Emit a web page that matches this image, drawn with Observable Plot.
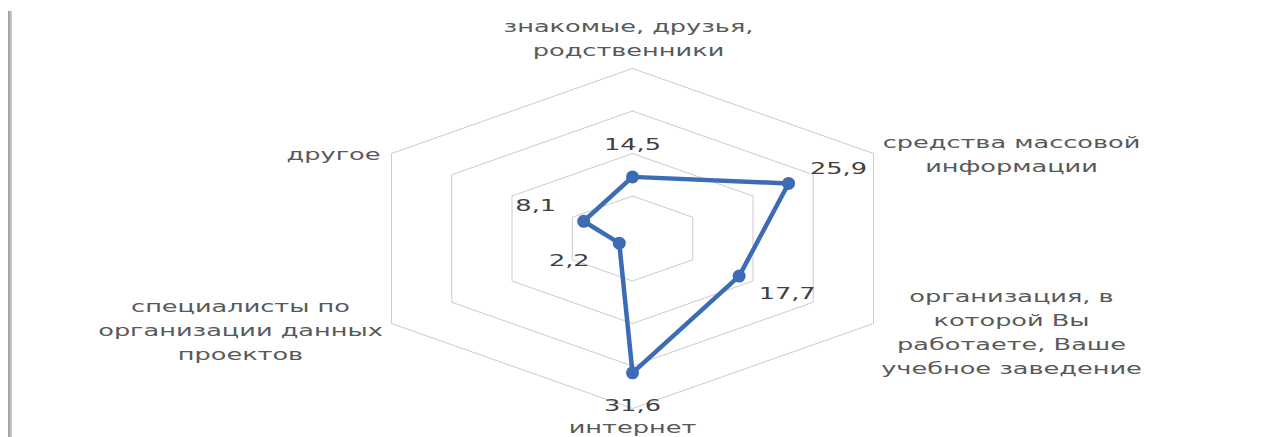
<!DOCTYPE html>
<html><head><meta charset="utf-8">
<script src="https://cdn.jsdelivr.net/npm/d3@7"></script>
<script src="https://cdn.jsdelivr.net/npm/@observablehq/plot@0.6"></script>
<style>
html,body{margin:0;padding:0;background:#fff;}
#chart{position:relative;width:1277px;height:437px;overflow:hidden;}
#frame{position:absolute;left:8px;top:11px;width:4px;height:426px;background:linear-gradient(to right,#9a9a9a,#cfcfcf);}
#chart svg{position:absolute;left:0;top:0;}
</style></head><body>
<div id="chart"><div id="frame"></div></div>
<script>
// ---- data ----
const categories = [
  "знакомые, друзья,\nродственники",
  "средства массовой\nинформации",
  "организация, в\nкоторой Вы\nработаете, Ваше\nучебное заведение",
  "интернет",
  "специалисты по\nорганизации данных\nпроектов",
  "другое"
];
const values = [14.5, 25.9, 17.7, 31.6, 2.2, 8.1];
const valueLabels = ["14,5", "25,9", "17,7", "31,6", "2,2", "8,1"];
const gridLevels = [10, 20, 30, 40];

// ---- layout / style ----
const W = 1277, H = 437;
const CX = 632, CY = 238;      // centre in px
const RY = 170, RX = 241;      // outer ring: vertical radius, half width
const maxV = 40;
const stretch = 1.6;
const blue = "#3b6cb4";
const kx = RX / (maxV * Math.cos(Math.PI / 6));
const ky = RY / maxV;

const n = categories.length;
const ang = i => i * 2 * Math.PI / n;
const pt = (v, i) => ({x: v * Math.sin(ang(i)), y: v * Math.cos(ang(i))});

const rings = gridLevels.flatMap(l => d3.range(n + 1).map(i => ({...pt(l, i % n), level: l})));
const series = d3.range(n + 1).map(i => ({...pt(values[i % n], i % n), v: values[i % n]}));
const pts = values.map((v, i) => ({...pt(v, i), label: valueLabels[i]}));
const outer = categories.map((c, i) => ({...pt(maxV, i), label: c}));

const catStyle = [
  {textAnchor: "middle", dx: -4, dy: -32},
  {textAnchor: "middle", dx: 138, dy: -1},
  {textAnchor: "middle", dx: 138, dy: 7},
  {textAnchor: "middle", dx: 0, dy: 17},
  {textAnchor: "middle", dx: -151, dy: 5},
  {textAnchor: "end", dx: -11, dy: -1}
];
const valStyle = [
  {dx: 0, dy: -32}, {dx: 50, dy: -15}, {dx: 48, dy: 18},
  {dx: 0, dy: 33}, {dx: -50, dy: 18}, {dx: -48, dy: -15}
];

const plot = Plot.plot({
  width: W, height: H,
  margin: 0,
  style: {fontFamily: "'DejaVu Sans', sans-serif", background: "transparent"},
  x: {domain: [-CX / kx, (W - CX) / kx], range: [0, W], axis: null},
  y: {domain: [-(H - CY) / ky, CY / ky], range: [H, 0], axis: null},
  marks: [
    Plot.line(rings, {x: "x", y: "y", z: "level", stroke: "#cccccc", strokeWidth: 1}),
    Plot.line(series, {x: "x", y: "y", stroke: blue, strokeWidth: 4.5, strokeLinejoin: "round"}),
    Plot.dot(pts, {x: "x", y: "y", r: 6.5, fill: blue, stroke: "none"}),
    ...pts.map((p, i) => Plot.text([p], {x: "x", y: "y", text: "label", fill: "#404040", fontSize: 16,
      textAnchor: "middle", lineAnchor: "middle", dx: valStyle[i].dx, dy: valStyle[i].dy})),
    ...outer.map((p, i) => Plot.text([p], {x: "x", y: "y", text: "label", fill: "#595959", fontSize: 16,
      lineHeight: 1.5, lineAnchor: "middle", textAnchor: catStyle[i].textAnchor,
      dx: catStyle[i].dx, dy: catStyle[i].dy}))
  ]
});

plot.querySelectorAll('g[aria-label="text"] text').forEach(t => {
  const tr = t.getAttribute("transform");
  if (tr) {
    t.setAttribute("transform", tr + ` scale(${stretch},1)`);
  } else {
    const x = +t.getAttribute("x") || 0, y = +t.getAttribute("y") || 0;
    t.removeAttribute("x"); t.removeAttribute("y");
    t.querySelectorAll("tspan").forEach(s => s.setAttribute("x", 0));
    t.setAttribute("transform", `translate(${x},${y}) scale(${stretch},1)`);
  }
});

document.getElementById("chart").appendChild(plot);
</script>
</body></html>
